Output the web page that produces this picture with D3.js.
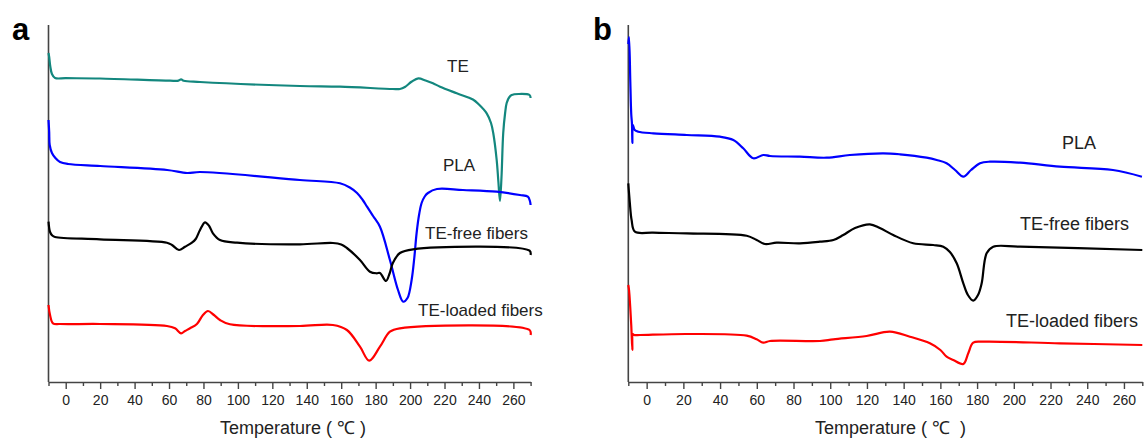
<!DOCTYPE html>
<html>
<head>
<meta charset="utf-8">
<script src="https://cdn.jsdelivr.net/npm/d3@7"></script>
<style>
  body { margin: 0; background: #fff; }
  svg { display: block; font-family: "Liberation Sans", Arial, sans-serif; }
</style>
</head>
<body>
<svg id="chart" width="1148" height="440"></svg>
<script>
// DSC curves, [temperature (°C), heat flow (a.u., offset per trace)]
const teA = [[-10,329],[-9.6,325],[-9,316],[-8,308],[-6.2,304],[0,303.8],[19.9,303.5],[60.6,301.3],[65.5,301.4],[67,302.6],[68.5,301.2],[78,300],[136,296],[159.3,295.3],[190,293],[194.1,293],[197,295],[201,300.5],[204.8,303.7],[209,301.5],[213.3,298.7],[217.4,295.3],[227.1,288.7],[236.5,282.5],[240,277.5],[244.5,268.7],[247,259],[248.3,249],[250.3,222],[251.3,200],[252.2,181],[253.1,205],[254.1,249],[255.2,269],[256.1,279],[257.5,284.5],[259,287],[263,288],[269.4,287],[270,284]];
const plaA = [[-10,262],[-9.6,250],[-9.3,237],[-8,229],[-6,224],[-3.3,220],[1.3,218],[20,216],[58.9,212],[70.5,209],[78,210],[136,202],[159.3,198.7],[165,194.5],[169.2,189],[172.5,182],[175,175.3],[178.5,166],[182.5,155.3],[188.3,122],[193,92],[196,80.3],[198.5,84],[200.9,102],[202.5,125],[203.8,149],[205.3,168],[206.7,179],[208.5,185.5],[210.4,189],[215.6,193],[230.7,192],[250.3,190.3],[263.8,187],[268.4,185.3],[269.6,181],[270,177]];
const freeA = [[-10,160.3],[-9.1,150],[-7.8,146.5],[-6.2,145],[19.9,142.7],[58.8,139.3],[61.7,137],[65.8,132],[69.3,135.3],[73.3,139.3],[75.5,143],[78,152],[80.9,159.7],[83.3,156],[85.5,148.7],[89.6,142],[99.5,139.3],[136,137.7],[155.2,139],[160,137.5],[163.3,134],[170.9,122],[176.7,110.3],[180.6,108.7],[182.5,109],[186,101],[188,108],[190,119],[194.1,129],[201.7,132.7],[269.4,131.3],[270,127]];
const loadedA = [[-10,77],[-9.1,67],[-7.4,58.7],[-3.3,58],[19.9,58],[58.8,56],[63.5,53.7],[67,48.7],[69.3,51],[72.2,53.7],[76.2,58],[79.7,67],[82.6,71],[86.1,67],[89.6,62],[95.4,57.7],[136,56],[155.2,57],[163.3,52],[170.9,35.3],[176.3,21.3],[182.5,35.3],[188.3,50.3],[194.1,53.7],[269.4,52],[270,47]];

const plaB = [[-10,338],[-9.6,345],[-8.9,300],[-8.4,268],[-8.0,258],[-7.8,239],[-7.5,257],[-6.5,252],[-4.6,250.3],[3.6,248.7],[21.8,247],[39.9,245.3],[47.2,242],[52.6,233.7],[58.1,223.7],[63.5,227],[67.2,226],[83.5,225.3],[98.1,224.3],[110.7,227],[128.9,228.7],[138,227.7],[152.5,224.3],[158,222],[163.4,218.7],[168,212],[172.5,205.3],[176.7,212],[181.6,218.7],[187,220.3],[203.4,219.3],[225.1,215.3],[254,212],[269.8,205.3]];
const freeB = [[-10,198.7],[-9.2,180],[-8.2,162],[-6.4,150.3],[3.4,149.3],[21.8,148.7],[54.5,146.3],[59.9,142],[64.4,138],[70.8,139.3],[83.5,138.7],[94.4,140.3],[101.7,142],[107.1,147],[113.5,154],[121.6,157.7],[127,154],[134.3,147],[145.2,138.7],[156.1,137],[161.6,135.3],[165.2,130],[168.9,118.7],[172.5,98.7],[175,87],[177.9,81.3],[180.5,87],[182.5,98.7],[185.2,128.7],[188.8,135.3],[203.4,135.3],[270,132]];
const loadedB = [[-10,97],[-9.6,92],[-8.4,57],[-7.8,32],[-7.5,48],[-6.8,47],[-3.6,47],[21.8,48],[54.5,46.3],[59.9,42.7],[63.5,39.3],[67.2,41],[94.4,41],[101.7,42.7],[119.8,46],[132.5,50.3],[143.4,45.3],[154.3,38.7],[160,32],[163.4,25.3],[167,22],[172.5,18],[175.2,28.7],[177.9,39.3],[183.4,40.3],[225.1,38.7],[270,37]];

const tickValues = d3.range(-10, 271, 10);
const tickLabels = d3.range(0, 261, 20);

const panels = [
  { letter: "a", range: [48.5, 530.6],
    series: [
      { data: teA, color: "#13877e", label: "TE", lx: 447, ly: 72 },
      { data: plaA, color: "#0000ff", label: "PLA", lx: 443, ly: 171 },
      { data: freeA, color: "#000000", label: "TE-free fibers", lx: 425, ly: 239 },
      { data: loadedA, color: "#ff0000", label: "TE-loaded fibers", lx: 418, ly: 316 }
    ], fontSize: 17, letterX: 12, titleX: 220, titleText: "Temperature\u00a0(\u00a0\u2103\u00a0)" },
  { letter: "b", range: [628.3, 1142.3],
    series: [
      { data: plaB, color: "#0000ff", label: "PLA", lx: 1062, ly: 149 },
      { data: freeB, color: "#000000", label: "TE-free fibers", lx: 1020, ly: 230 },
      { data: loadedB, color: "#ff0000", label: "TE-loaded fibers", lx: 1006, ly: 327 }
    ], fontSize: 18, letterX: 593, titleX: 815, titleText: "Temperature\u00a0(\u00a0\u2103\u00a0\u00a0)" }
];

const svg = d3.select("#chart");
const y = d3.scaleLinear().domain([0, 357]).range([382, 25]);

panels.forEach(p => {
  const x = d3.scaleLinear().domain([-10, 270]).range(p.range);
  const g = svg.append("g");

  // y axis line (no ticks)
  g.append("line")
    .attr("x1", x(-10)).attr("x2", x(-10))
    .attr("y1", y(357)).attr("y2", y(0))
    .attr("stroke", "#444").attr("stroke-width", 1.6);

  const axis = d3.axisBottom(x)
    .tickValues(tickValues)
    .tickSize(7)
    .tickSizeOuter(0)
    .tickPadding(6)
    .tickFormat(d => tickLabels.includes(d) ? d : "");

  const ax = g.append("g")
    .attr("transform", `translate(0,${y(0)})`)
    .call(axis);
  ax.select(".domain").attr("stroke", "#444").attr("stroke-width", 1.6);
  ax.selectAll(".tick line")
    .attr("stroke", "#444").attr("stroke-width", 1.4)
    .attr("y2", d => d % 20 === 0 ? 7 : 4);
  ax.selectAll(".tick text")
    .attr("fill", "#222")
    .style("font-size", "14px")
    .style("font-family", "'Liberation Sans', Arial, sans-serif");

  const line = d3.line()
    .x(d => x(d[0]))
    .y(d => y(d[1]))
    .curve(d3.curveCatmullRom.alpha(0.5));

  p.series.forEach(s => {
    g.append("path")
      .datum(s.data)
      .attr("fill", "none")
      .attr("stroke", s.color)
      .attr("stroke-width", 2.2)
      .attr("stroke-linejoin", "round")
      .attr("d", line);

    g.append("text")
      .attr("x", s.lx).attr("y", s.ly)
      .attr("fill", "#222")
      .style("font-size", p.fontSize + "px")
      .text(s.label);
  });

  g.append("text")
    .attr("x", p.letterX).attr("y", 40)
    .style("font-size", "31px")
    .style("font-weight", "bold")
    .attr("fill", "#000")
    .text(p.letter);

  g.append("text")
    .attr("x", p.titleX).attr("y", 434)
    .style("font-size", "18px")
    .attr("fill", "#222")
    .text(p.titleText);
});
</script>
</body>
</html>
